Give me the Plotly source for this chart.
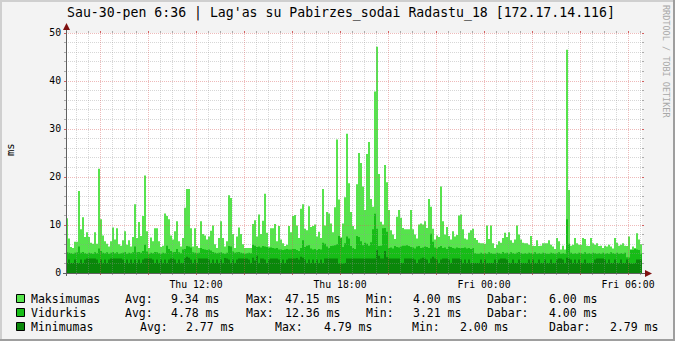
import math
import pandas as pd
import plotly.graph_objects as go

# ---------------- data ----------------
title_text = "Sau-30-pen 6:36 | Lag'as su Pabirzes_sodai Radastu_18 [172.17.14.116]"
y_label = "ms"
watermark = "RRDTOOL / TOBI OETIKER"
start_time = "2015-01-29 06:35"
step_minutes = 5

maksimumas = [
    11.4, 7.2, 5.4, 5.2, 6.5, 6.5, 17.1, 9.1, 11.6, 7.5,
    8.5, 7.5, 6.3, 6.1, 8.5, 6.1, 21.7, 11.2, 7.8, 6.6,
    6.1, 5.5, 6.6, 9.5, 7.0, 9.3, 6.0, 5.7, 6.8, 8.7,
    5.9, 6.8, 5.5, 7.5, 14.3, 7.3, 10.6, 7.7, 11.9, 20.3,
    8.7, 5.2, 7.4, 6.6, 9.3, 9.3, 6.6, 5.4, 5.7, 12.4,
    11.9, 11.2, 7.8, 7.0, 8.7, 10.8, 6.6, 5.5,
    7.3, 13.6, 17.5, 17.5, 9.3, 5.5, 9.3, 5.6, 5.2, 10.8,
    8.1, 7.8, 7.0, 7.6, 8.8, 9.9, 6.0, 5.2, 7.3, 10.8,
    7.3, 5.5, 6.6, 16.2, 15.6, 8.1, 5.2, 7.6, 9.5, 8.1,
    6.0, 5.2, 5.2, 5.2, 5.2, 10.2, 11.0, 7.6, 12.2, 8.1,
    10.9, 16.5, 8.4, 5.5, 9.3, 9.3, 10.2, 6.6, 9.8, 7.0,
    6.2, 5.6, 5.9, 9.8, 8.5, 11.9,
    12.1, 9.9, 7.3, 13.4, 14.3, 9.2, 8.9, 13.9, 9.6, 9.8,
    10.1, 7.6, 8.6, 7.3, 17.5, 9.9, 12.7, 12.4, 10.3, 8.5,
    13.7, 27.8, 15.3, 6.9, 10.3, 15.8, 29.0, 18.7, 12.7, 9.8,
    9.1, 18.5, 25.0, 22.9, 18.0, 13.1, 24.8, 27.3, 15.4, 13.8,
    37.8, 47.15, 20.6, 10.7, 10.1, 22.5, 18.9, 13.1, 8.9, 8.0,
    7.1, 11.7, 13.1, 11.5, 9.4, 9.1, 9.1, 9.1,
    13.1, 9.1, 8.0, 7.2, 10.1, 10.3, 10.1, 10.8, 9.4, 15.4,
    13.8, 9.2, 7.0, 7.8, 7.5, 18.0, 10.8, 8.0, 9.6, 7.7,
    7.0, 8.7, 7.6, 7.9, 12.0, 12.2, 9.1, 7.2, 7.0, 8.4,
    8.9, 9.2, 7.3, 6.9, 6.3, 6.2, 6.2, 6.1, 9.9, 7.1,
    9.9, 6.2, 5.2, 5.9, 6.6, 6.3, 7.3, 8.4, 7.5, 8.5,
    6.8, 6.3, 7.0, 9.9, 8.0, 7.0, 6.3,
    6.2, 6.2, 5.9, 7.7, 5.7, 5.6, 6.8, 5.6, 5.7, 6.2,
    6.2, 6.2, 6.8, 5.9, 5.5, 5.0, 7.3, 6.6, 4.9, 5.7,
    4.9, 46.5, 17.3, 5.7, 5.9, 7.3, 6.2, 5.9, 5.9, 7.3,
    7.1, 5.7, 5.6, 7.3, 6.2, 5.9, 6.2, 5.6, 5.7, 5.2,
    5.7, 5.5, 5.9, 5.5, 5.1, 7.3, 6.3, 5.7, 5.9, 6.2,
    5.7, 5.6, 7.6, 4.0, 5.5, 5.2, 8.3, 7.0, 6.0,
]

vidurkis = [
    4.3, 4.2, 4.1, 4.0, 4.2, 4.3, 5.5, 4.2, 4.4, 4.1,
    4.0, 4.2, 4.1, 4.0, 4.3, 4.1, 5.1, 4.6, 4.2, 4.1,
    4.3, 4.0, 4.2, 4.4, 4.1, 4.3, 4.0, 4.1, 4.2, 4.4,
    4.0, 4.2, 4.1, 4.3, 5.5, 4.3, 4.4, 4.2, 4.6, 5.9,
    4.5, 4.0, 4.2, 4.1, 4.4, 4.3, 4.1, 4.0, 4.2, 4.1,
    5.7, 5.0, 4.6, 4.3, 4.4, 5.0, 4.3, 4.1,
    4.9, 5.0, 5.6, 5.5, 5.3, 4.3, 4.2, 4.1, 4.2, 5.2,
    5.0, 4.9, 4.8, 4.9, 4.7, 4.4, 4.2, 4.1, 4.2, 4.3,
    4.1, 4.0, 4.2, 5.6, 5.5, 4.5, 4.2, 4.3, 4.4, 4.2,
    4.1, 4.0, 4.1, 4.2, 4.1, 5.9, 5.7, 5.4, 5.5, 5.3,
    5.6, 5.5, 5.4, 5.2, 5.3, 5.2, 5.1, 5.2, 4.9, 4.9,
    4.8, 4.9, 5.0, 4.9, 4.9, 5.0,
    5.0, 4.8, 4.6, 5.2, 6.8, 5.4, 5.7, 5.8, 5.1, 4.9,
    5.0, 4.8, 5.0, 4.9, 6.3, 6.1, 5.5, 5.2, 5.6, 5.7,
    5.8, 6.0, 7.7, 7.4, 5.4, 6.2, 7.6, 7.2, 5.6, 5.2,
    5.0, 7.7, 7.5, 6.6, 5.8, 6.3, 6.1, 5.7, 6.4, 9.1,
    12.36, 9.2, 5.6, 5.7, 9.3, 9.4, 8.6, 5.2, 5.3, 5.1,
    5.6, 5.4, 5.3, 5.5, 5.7, 5.7, 5.8, 5.6,
    5.4, 5.3, 5.1, 5.5, 5.6, 5.2, 5.3, 5.5, 5.4, 5.2,
    8.2, 6.5, 5.3, 5.1, 5.4, 5.6, 5.2, 5.3, 5.0, 5.5,
    5.4, 5.2, 5.1, 5.3, 5.2, 5.2, 5.2, 5.3, 5.1, 5.2,
    5.0, 5.2, 4.1, 4.0, 4.0, 4.2, 4.0, 4.1, 4.0, 4.3,
    4.1, 4.0, 4.0, 4.2, 4.1, 4.0, 4.4, 4.1, 4.2, 4.0,
    4.3, 4.1, 4.0, 4.2, 4.4, 4.1, 4.0,
    4.1, 4.0, 4.2, 4.1, 4.0, 4.3, 4.0, 4.1, 4.0, 4.2,
    4.1, 4.0, 4.0, 4.2, 4.1, 4.0, 4.1, 4.3, 4.0, 4.1,
    4.0, 11.2, 6.1, 4.2, 4.0, 4.1, 4.0, 4.2, 4.1, 4.0,
    4.3, 4.0, 4.1, 4.0, 4.2, 4.1, 4.0, 4.1, 4.0, 4.2,
    4.0, 4.1, 4.0, 4.3, 4.1, 4.0, 4.2, 4.0, 4.1, 4.0,
    4.2, 3.3, 3.21, 4.9, 4.8, 5.0, 4.9, 4.8, 4.0,
]

minimumas = [
    2.1, 2.8, 2.1, 2.1, 2.8, 2.1, 2.1, 2.8, 2.1, 2.8,
    3.0, 3.0, 3.0, 3.0, 3.0, 2.8, 2.1, 2.8, 2.1, 2.8,
    2.1, 2.8, 3.0, 3.0, 3.0, 3.0, 3.0, 3.0, 2.8, 2.1,
    2.8, 2.1, 2.8, 2.1, 2.8, 2.1, 2.8, 2.1, 2.8, 3.0,
    3.0, 3.0, 3.0, 2.8, 2.1, 2.8, 2.1, 2.8, 2.1, 2.8,
    2.1, 2.8, 3.0, 3.0, 2.8, 2.1, 2.8, 2.1,
    2.1, 3.1, 3.4, 3.2, 2.8, 2.1, 2.8, 2.1, 3.0, 3.0,
    3.0, 3.0, 3.0, 2.8, 2.1, 2.8, 2.1, 2.8, 2.1, 2.8,
    2.1, 3.1, 3.0, 2.8, 2.1, 2.8, 2.1, 2.8, 3.0, 3.0,
    3.0, 3.0, 3.0, 2.8, 2.1, 3.2, 2.6, 3.6, 2.1, 3.0,
    3.0, 2.8, 2.1, 2.8, 3.0, 3.0, 3.0, 3.0, 2.8, 2.1,
    2.8, 2.1, 2.8, 3.0, 3.0, 3.0,
    3.0, 3.1, 2.8, 3.4, 3.2, 2.8, 2.1, 2.8, 2.1, 2.8,
    2.1, 2.8, 2.1, 2.8, 2.1, 3.0, 3.0, 3.0, 3.0, 3.0,
    3.0, 3.0, 2.0, 2.0, 2.0, 2.1, 3.0, 3.0, 3.0, 3.0,
    3.0, 3.0, 3.0, 3.0, 3.0, 3.0, 3.0, 3.0, 3.0, 3.0,
    3.0, 4.79, 3.6, 3.0, 3.0, 4.6, 3.3, 3.0, 3.0, 3.0,
    3.0, 3.0, 3.0, 2.1, 2.1, 3.0, 3.0, 3.0,
    3.0, 3.0, 2.8, 2.1, 2.8, 3.0, 3.2, 3.0, 2.8, 2.1,
    3.0, 3.4, 3.0, 2.8, 2.1, 2.8, 3.0, 3.0, 3.0, 2.8,
    2.1, 3.0, 3.0, 3.0, 3.0, 2.8, 2.1, 2.8, 2.1, 2.8,
    2.1, 2.1, 2.1, 2.1, 2.1, 2.8, 2.1, 2.8, 2.1, 2.1,
    2.1, 2.1, 2.8, 2.1, 2.8, 3.0, 3.0, 3.0, 2.8, 2.1,
    2.1, 2.8, 2.1, 2.1, 2.8, 2.1, 2.1,
    2.1, 2.1, 2.8, 2.1, 2.8, 2.1, 2.1, 2.8, 2.1, 2.1,
    2.8, 2.1, 2.1, 2.8, 2.1, 2.1, 2.8, 3.0, 3.0, 2.8,
    2.1, 3.2, 3.0, 2.8, 2.1, 2.8, 2.1, 2.8, 2.1, 2.1,
    2.8, 2.1, 2.1, 2.1, 2.1, 2.8, 3.0, 3.0, 3.0, 3.0,
    2.8, 2.1, 2.8, 2.1, 2.1, 2.8, 2.1, 2.1, 2.8, 2.1,
    2.1, 2.8, 2.1, 2.0, 2.0, 2.1, 2.8, 2.79, 2.79,
]

series_names = ["Maksimumas", "Vidurkis", "Minimumas"]
stat_labels = ["Avg:", "Max:", "Min:", "Dabar:"]
stat_values = [
    [9.34, 47.15, 4.00, 6.00],
    [4.78, 12.36, 3.21, 4.00],
    [2.77, 4.79, 2.00, 2.79],
]
unit = "ms"
y_ticks = [0, 10, 20, 30, 40, 50]
y_minor_step = 2
y_max = 50

# ---------------- styles / layout ----------------
W, H = 675, 341
ML, MR, MT, MB = 66, 33, 33, 68
PW, PH = W - ML - MR, H - MT - MB
FONT = "DejaVu Sans Mono"
series_colors = ["#56E44C", "#17BD17", "#0A870A"]
back_col = "#F3F3F3"
minor_col = "rgba(150,150,150,0.38)"
major_col = "rgba(215,90,90,0.42)"
minor_stub = "rgba(140,140,140,0.7)"
major_stub = "rgba(200,60,60,0.8)"
axis_col = "#606060"
arrow_col = "#7F1010"
grid_dash = "1px,1px"

t0 = pd.Timestamp(start_time)
t1 = t0 + pd.Timedelta(hours=24)


def px_x(px):
    return (px - ML) / PW


def px_y(py):
    return (H - MB - py) / PH


def time_px(t):
    return ML + (t - t0) / (t1 - t0) * PW


def val_py(v):
    return H - MB - v / y_max * PH


fig = go.Figure()
for name, vals, col in zip(series_names, [maksimumas, vidurkis, minimumas], series_colors):
    xs = list(pd.date_range(t0, periods=len(vals) + 1, freq=f"{step_minutes}min"))
    ys = list(vals) + [vals[-1]]
    fig.add_trace(go.Scatter(
        x=xs, y=ys, mode="lines", name=name,
        line=dict(width=0, shape="hv", color=col),
        fill="tozeroy", fillcolor=col,
        hoverinfo="skip", showlegend=False,
    ))

shapes = []


def hline(x0, x1, y, color, dash="solid", width=1):
    shapes.append(dict(type="line", xref="paper", yref="paper", x0=px_x(x0), x1=px_x(x1),
                       y0=px_y(y), y1=px_y(y), layer="above",
                       line=dict(color=color, width=width, dash=dash)))


def vline(x, y0, y1, color, dash="solid", width=1):
    shapes.append(dict(type="line", xref="paper", yref="paper", x0=px_x(x), x1=px_x(x),
                       y0=px_y(y0), y1=px_y(y1), layer="above",
                       line=dict(color=color, width=width, dash=dash)))


X0, X1 = ML, ML + PW
Y0, Y1 = H - MB, MT

# horizontal grid (minor every 2, major every 10)
v = y_minor_step
while v <= y_max:
    py = math.floor(val_py(v)) + 0.5
    major = v in y_ticks
    hline(X0, X1, py, major_col if major else minor_col, grid_dash)
    hline(X0 - 2, X0, py, major_stub if major else minor_stub)
    hline(X1, X1 + 2, py, major_stub if major else minor_stub)
    v += y_minor_step

# vertical grid (minor every 30 min, major every 2 h)
minor_times = pd.date_range(t0.ceil("30min"), t1, freq="30min")
major_times = pd.date_range(t0.ceil("2h"), t1, freq="2h")
for t in minor_times:
    px = math.floor(time_px(t)) + 0.5
    if px >= X1:
        continue
    major = t in major_times
    vline(px, Y0, Y1, major_col if major else minor_col, grid_dash)
    vline(px, Y0, Y0 + 2, major_stub if major else minor_stub)
    vline(px, Y1 - 2, Y1, major_stub if major else minor_stub)

# axes + arrows
vline(X0 + 0.5, Y0 + 3, Y1 - 5, axis_col)
hline(X0 - 3, X1 + 4, Y0 + 0.5, axis_col)


def path(points):
    return "M " + " L ".join(f"{px_x(a)},{px_y(b)}" for a, b in points) + " Z"


shapes.append(dict(type="path", xref="paper", yref="paper", layer="above",
                   path=path([(X0 + 0.5, Y1 - 10), (X0 - 3, Y1 - 3), (X0 + 4, Y1 - 3)]),
                   fillcolor=arrow_col, line=dict(width=0)))
shapes.append(dict(type="path", xref="paper", yref="paper", layer="above",
                   path=path([(X1 + 10, Y0 + 0.5), (X1 + 3, Y0 - 3), (X1 + 3, Y0 + 4)]),
                   fillcolor=arrow_col, line=dict(width=0)))

# 3D frame
for (a, b, c, d, col) in [(0, 0, W, 2, "#CFCFCF"), (0, 0, 2, H, "#CFCFCF"),
                          (W - 2, 0, W, H, "#9E9E9E"), (0, H - 2, W, H, "#9E9E9E")]:
    shapes.append(dict(type="rect", xref="paper", yref="paper", x0=px_x(a), x1=px_x(c),
                       y0=px_y(b), y1=px_y(d), fillcolor=col, line=dict(width=0), layer="above"))

annotations = []
annotations.append(dict(text=title_text, x=px_x(340.5), y=px_y(13), xref="paper", yref="paper",
                        showarrow=False, xanchor="center", yanchor="middle",
                        font=dict(family=FONT, size=13.2, color="#000000")))
annotations.append(dict(text=y_label, x=px_x(10), y=px_y(150), xref="paper", yref="paper",
                        showarrow=False, textangle=-90, xanchor="center", yanchor="middle",
                        font=dict(family=FONT, size=10.5, color="#000000")))
annotations.append(dict(text=watermark, x=px_x(666), y=px_y(61), xref="paper", yref="paper",
                        showarrow=False, textangle=90, xanchor="center", yanchor="middle",
                        font=dict(family=FONT, size=8.5, color="#A8A8A8")))

# legend
row_y = [298.5, 312.5, 326.5]
label_x = [[124, 245, 365, 486], [124, 245, 365, 486], [139, 274, 411, 548]]
value_right = [[220, 341, 462, 598], [220, 341, 462, 598], [235, 373, 509, 659]]
lfont = dict(family=FONT, size=11.5, color="#000000")
for i, name in enumerate(series_names):
    yy = row_y[i]
    shapes.append(dict(type="rect", xref="paper", yref="paper",
                       x0=px_x(16.5), x1=px_x(24.5), y0=px_y(yy - 4), y1=px_y(yy + 4),
                       fillcolor=series_colors[i], line=dict(color="#000000", width=1), layer="above"))
    annotations.append(dict(text=name, x=px_x(29), y=px_y(yy), xref="paper", yref="paper",
                            showarrow=False, xanchor="left", yanchor="middle", font=lfont))
    for j, lab in enumerate(stat_labels):
        annotations.append(dict(text=lab, x=px_x(label_x[i][j] - 1), y=px_y(yy), xref="paper",
                                yref="paper", showarrow=False, xanchor="left", yanchor="middle",
                                font=lfont))
        annotations.append(dict(text=f"{stat_values[i][j]:.2f} {unit}", x=px_x(value_right[i][j] + 1),
                                y=px_y(yy), xref="paper", yref="paper", showarrow=False,
                                xanchor="right", yanchor="middle", font=lfont))

tick_times = list(major_times[major_times < t1])
tick_text = [t.strftime("%a %H:%M") if t.hour % 6 == 0 else "" for t in tick_times]

fig.update_layout(
    width=W, height=H,
    margin=dict(l=ML, r=MR, t=MT, b=MB, pad=0),
    paper_bgcolor=back_col, plot_bgcolor="#FFFFFF",
    shapes=shapes, annotations=annotations,
    showlegend=False,
    xaxis=dict(type="date", range=[t0, t1], tickvals=tick_times, ticktext=tick_text,
               showgrid=False, zeroline=False, showline=False,
               ticks="outside", ticklen=2, tickcolor="rgba(0,0,0,0)",
               tickfont=dict(family=FONT, size=9.8, color="#000000"), fixedrange=True),
    yaxis=dict(range=[0, y_max], tickvals=y_ticks, showgrid=False, zeroline=False,
               showline=False, ticks="outside", ticklen=2, tickcolor="rgba(0,0,0,0)",
               tickfont=dict(family=FONT, size=9.8, color="#000000"), fixedrange=True),
)

fig.write_html("out.html")
